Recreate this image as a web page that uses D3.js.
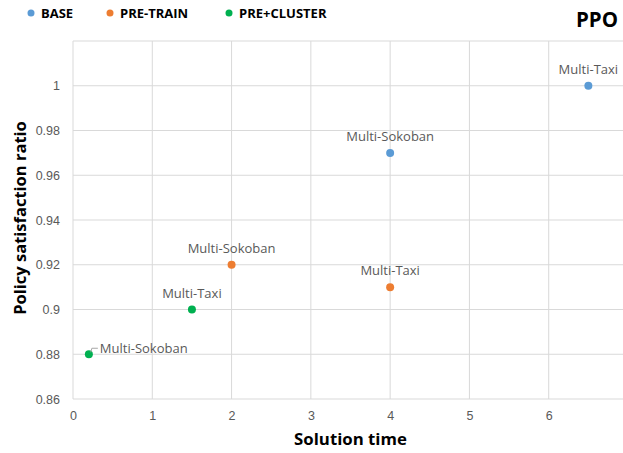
<!DOCTYPE html>
<html>
<head>
<meta charset="utf-8">
<script src="https://cdn.jsdelivr.net/npm/d3@7"></script>
<style>
  body { margin: 0; background: #fff; }
  svg { font-family: "Open Sans", "Liberation Sans", sans-serif; }
</style>
</head>
<body>
<div id="chart"></div>
<script>
// series data
const seriesNames = ["BASE", "PRE-TRAIN", "PRE+CLUSTER"];
const seriesColors = ["#5B9BD5", "#ED7D31", "#00B050"];
const baseTime = [4, 6.5];
const baseRatio = [0.97, 1.0];
const baseLabels = ["Multi-Sokoban", "Multi-Taxi"];
const pretrainTime = [2, 4];
const pretrainRatio = [0.92, 0.91];
const pretrainLabels = ["Multi-Sokoban", "Multi-Taxi"];
const clusterTime = [0.2, 1.5];
const clusterRatio = [0.88, 0.90];
const clusterLabels = ["Multi-Sokoban", "Multi-Taxi"];
const xTicks = [0, 1, 2, 3, 4, 5, 6, 7];
const yTicks = [0.86, 0.88, 0.9, 0.92, 0.94, 0.96, 0.98, 1, 1.02];

const width = 623, height = 453;
const margin = { top: 41, bottom: 54, left: 73, right: -5 };

const svg = d3.select("#chart")
  .append("svg")
  .attr("width", width)
  .attr("height", height);

const x = d3.scaleLinear()
  .domain([0, 7])
  .range([margin.left, width - margin.right]);

const y = d3.scaleLinear()
  .domain([0.86, 1.02])
  .range([height - margin.bottom, margin.top]);

// --- GRID ---
svg.append("g")
  .selectAll("line")
  .data(xTicks)
  .enter()
  .append("line")
  .attr("x1", d => x(d)).attr("x2", d => x(d))
  .attr("y1", y(0.86)).attr("y2", y(1.02))
  .attr("stroke", "#d9d9d9")
  .attr("stroke-width", 1);

svg.append("g")
  .selectAll("line")
  .data(yTicks)
  .enter()
  .append("line")
  .attr("x1", x(0)).attr("x2", x(7))
  .attr("y1", d => y(d)).attr("y2", d => y(d))
  .attr("stroke", "#d9d9d9")
  .attr("stroke-width", 1);

// --- AXES (tick labels only) ---
const xAxis = svg.append("g")
  .attr("transform", `translate(0,${y(0.86)})`)
  .call(d3.axisBottom(x).tickValues(xTicks.slice(0, 7)).tickSize(0).tickPadding(12).tickFormat(d3.format("d")));
xAxis.select(".domain").remove();
xAxis.selectAll("text")
  .style("font-size", "12.5px")
  .style("fill", "#595959");

const yAxis = svg.append("g")
  .attr("transform", `translate(${x(0)},0)`)
  .call(d3.axisLeft(y).tickValues(yTicks.slice(0, 8)).tickSize(0).tickPadding(13).tickFormat(d => +d.toFixed(2)));
yAxis.select(".domain").remove();
yAxis.selectAll("text")
  .style("font-size", "12.5px")
  .style("fill", "#595959");

// --- POINTS ---
const series = [
  { name: seriesNames[0], color: seriesColors[0], xs: baseTime, ys: baseRatio, labels: baseLabels },
  { name: seriesNames[1], color: seriesColors[1], xs: pretrainTime, ys: pretrainRatio, labels: pretrainLabels },
  { name: seriesNames[2], color: seriesColors[2], xs: clusterTime, ys: clusterRatio, labels: clusterLabels }
];

series.forEach(s => {
  const pts = s.xs.map((t, i) => ({ t: t, r: s.ys[i], label: s.labels[i] }));
  const g = svg.append("g");

  g.selectAll("circle")
    .data(pts)
    .enter()
    .append("circle")
    .attr("cx", d => x(d.t))
    .attr("cy", d => y(d.r))
    .attr("r", 4)
    .attr("fill", s.color);

  g.selectAll("text")
    .data(pts)
    .enter()
    .append("text")
    .attr("x", d => d.t < 1 ? x(d.t) + 11 : x(d.t))
    .attr("y", d => d.t < 1 ? y(d.r) - 1 : y(d.r) - 12)
    .attr("text-anchor", d => d.t < 1 ? "start" : "middle")
    .style("font-size", "13px")
    .style("fill", "#595959")
    .text(d => d.label);

  // leader line for the label placed beside its point
  pts.filter(d => d.t < 1).forEach(d => {
    g.append("path")
      .attr("d", `M${x(d.t) + 2},${y(d.r) - 2}L${x(d.t) + 3},${y(d.r) - 6}L${x(d.t) + 9},${y(d.r) - 6}`)
      .attr("fill", "none")
      .attr("stroke", "#a6a6a6")
      .attr("stroke-width", 1);
  });
});

// --- AXIS TITLES ---
svg.append("text")
  .attr("x", (x(0) + x(7)) / 2)
  .attr("y", 445)
  .attr("text-anchor", "middle")
  .style("font-size", "16.8px")
  .style("font-weight", "bold")
  .style("fill", "#000")
  .text("Solution time");

svg.append("text")
  .attr("transform", "rotate(-90)")
  .attr("x", -(y(0.86) + y(1.02)) / 2 + 2)
  .attr("y", 26)
  .attr("text-anchor", "middle")
  .style("font-size", "16.5px")
  .style("font-weight", "bold")
  .style("fill", "#000")
  .text("Policy satisfaction ratio");

// --- TITLE ---
svg.append("text")
  .attr("x", 618)
  .attr("y", 27)
  .attr("text-anchor", "end")
  .style("font-size", "20.5px")
  .style("font-weight", "bold")
  .style("fill", "#000")
  .text("PPO");

// --- LEGEND ---
const legendX = [31, 110, 229];
const legend = svg.append("g");
series.forEach((s, i) => {
  legend.append("circle")
    .attr("cx", legendX[i])
    .attr("cy", 13)
    .attr("r", 3.5)
    .attr("fill", s.color);
  legend.append("text")
    .attr("x", legendX[i] + 10)
    .attr("y", 18)
    .style("font-size", "13px")
    .style("font-weight", "bold")
    .style("fill", "#000")
    .text(s.name);
});
</script>
</body>
</html>
